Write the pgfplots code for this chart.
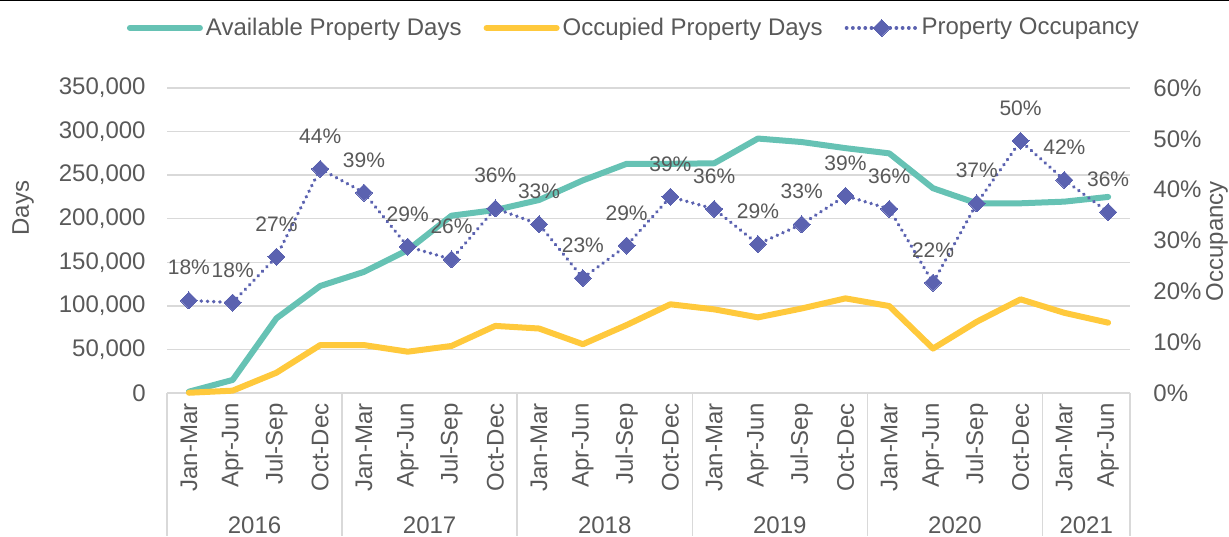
\documentclass[border=0pt]{standalone}
\usepackage{fontspec}
\setmainfont{Liberation Sans}
\usepackage{pgfplots}
\usepackage{pgfplotstable}
\pgfplotsset{compat=1.18}
\definecolor{teal1}{HTML}{66C2B4}
\definecolor{gold1}{HTML}{FFC93C}
\definecolor{purp}{HTML}{5B62B0}
\definecolor{txt}{HTML}{595959}
\definecolor{grd}{HTML}{D9D9D9}
\pgfplotsset{/pgf/number format/assume math mode=true}

\pgfplotstableread{
x avail occ
0 1500 270
1 15000 2700
2 85700 23300
3 122800 55000
4 139000 55000
5 164000 47400
6 203500 54000
7 210000 77000
8 221500 74000
9 244000 56000
10 263000 78000
11 263000 101800
12 263600 96000
13 292000 86800
14 288000 97000
15 281000 108600
16 275000 99800
17 235000 51000
18 217700 81800
19 217700 107500
20 219600 92000
21 225000 80700
}\daysdata

\pgfplotstableread{
x pct
0 18.2
1 17.8
2 26.8
3 44.1
4 39.4
5 28.8
6 26.3
7 36.3
8 33.2
9 22.6
10 29.0
11 38.6
12 36.2
13 29.3
14 33.2
15 38.8
16 36.2
17 21.7
18 37.3
19 49.6
20 41.9
21 35.6
}\occdata

\begin{document}
\begin{tikzpicture}
\path[use as bounding box] (0,0) rectangle (614.5pt,268pt);
\draw[black, line width=1.5pt] (0,268pt) -- (614.5pt,268pt);
\begin{axis}[
  at={(83.5pt,71.5pt)}, anchor=south west,
  scale only axis, width=481.5pt, height=152.5pt,
  xmin=-0.5, xmax=21.5, ymin=0, ymax=350000,
  ytick={0,50000,100000,150000,200000,250000,300000,350000},
  scaled y ticks=false,
  yticklabel style={/pgf/number format/.cd, fixed, precision=0, 1000 sep={,}, /tikz/.cd, anchor=east, inner sep=0pt, xshift=-10.5pt,
    font=\fontsize{12}{14}\selectfont, text=txt},
  xtick={0,...,21},
  xticklabels={Jan-Mar,Apr-Jun,Jul-Sep,Oct-Dec,Jan-Mar,Apr-Jun,Jul-Sep,Oct-Dec,Jan-Mar,Apr-Jun,Jul-Sep,Oct-Dec,Jan-Mar,Apr-Jun,Jul-Sep,Oct-Dec,Jan-Mar,Apr-Jun,Jul-Sep,Oct-Dec,Jan-Mar,Apr-Jun},
  xticklabel style={rotate=90, anchor=east, inner sep=0pt, xshift=-5pt,
    font=\fontsize{12}{14}\selectfont, text=txt},
  major tick length=0pt,
  axis x line*=bottom, axis y line*=left,
  x axis line style={grd, line width=0.75pt},
  y axis line style={draw=none},
  ymajorgrids, grid style={grd, line width=0.75pt},
  ylabel={Days},
  ylabel style={at={(rel axis cs:-0.1495,0.6066)}, anchor=center,
    font=\fontsize{12}{14}\selectfont, text=txt},
  clip=false,
]
\addplot[teal1, line width=3pt, line cap=round, line join=round] table[x=x, y=avail] {\daysdata};
\addplot[gold1, line width=3pt, line cap=round, line join=round] table[x=x, y=occ] {\daysdata};
\pgfplotsinvokeforeach{-0.5,3.5,7.5,11.5,15.5,19.5,21.5}{
  \draw[grd, line width=0.75pt] (axis cs:#1,0) -- ++(0pt,-71.5pt);
}
\node[text=txt, font=\fontsize{12}{14}\selectfont, yshift=-66pt] at (axis cs:1.5,0) {2016};
\node[text=txt, font=\fontsize{12}{14}\selectfont, yshift=-66pt] at (axis cs:5.5,0) {2017};
\node[text=txt, font=\fontsize{12}{14}\selectfont, yshift=-66pt] at (axis cs:9.5,0) {2018};
\node[text=txt, font=\fontsize{12}{14}\selectfont, yshift=-66pt] at (axis cs:13.5,0) {2019};
\node[text=txt, font=\fontsize{12}{14}\selectfont, yshift=-66pt] at (axis cs:17.5,0) {2020};
\node[text=txt, font=\fontsize{12}{14}\selectfont, yshift=-66pt] at (axis cs:20.5,0) {2021};
\end{axis}
\begin{axis}[
  at={(83.5pt,71.5pt)}, anchor=south west,
  scale only axis, width=481.5pt, height=152.5pt,
  xmin=-0.5, xmax=21.5, ymin=0, ymax=60,
  ytick={0,10,20,30,40,50,60},
  yticklabel={\pgfmathprintnumber[fixed,precision=0]{\tick}\%},
  yticklabel style={anchor=west, inner sep=0pt, xshift=11.5pt,
    font=\fontsize{12}{14}\selectfont, text=txt},
  axis x line=none, axis y line*=right,
  y axis line style={draw=none},
  major tick length=0pt,
  ylabel={Occupancy},
  ylabel style={at={(rel axis cs:1.0903,0.498)}, anchor=center,
    font=\fontsize{12}{14}\selectfont, text=txt},
  clip=false,
  legend columns=-1,
  legend style={at={(rel axis cs:0.4854,1.197)}, anchor=center, draw=none, fill=none,
    font=\fontsize{12}{14}\selectfont, text=txt,
    nodes={inner sep=1.5pt},
    /tikz/every even column/.append style={column sep=9.5pt}},
  legend image code/.code={\draw[mark repeat=2,mark phase=2,#1] plot coordinates {(0pt,0pt) (17.5pt,0pt) (35pt,0pt)};},
]
\addlegendimage{teal1, line width=3pt, line cap=round}
\addlegendentry{Available Property Days}
\addlegendimage{gold1, line width=3pt, line cap=round}
\addlegendentry{Occupied Property Days}
\addplot[purp, line width=1.9pt, line cap=round, dash pattern=on 0.01pt off 3.1pt,
  mark=square*, mark size=3pt, mark options={solid, rotate=45, fill=purp, draw=purp, line width=0pt},
  nodes near coords={\pgfmathprintnumber[fixed,precision=0]{\pgfplotspointmeta}\%},
  point meta=y,
  nodes near coords style={anchor=base, inner sep=0pt, yshift=12.75pt,
    font=\fontsize{10.5}{12}\selectfont, text=txt},
] table[x=x, y=pct] {\occdata};
\addlegendentry{Property Occupancy}
\end{axis}
\end{tikzpicture}
\end{document}
